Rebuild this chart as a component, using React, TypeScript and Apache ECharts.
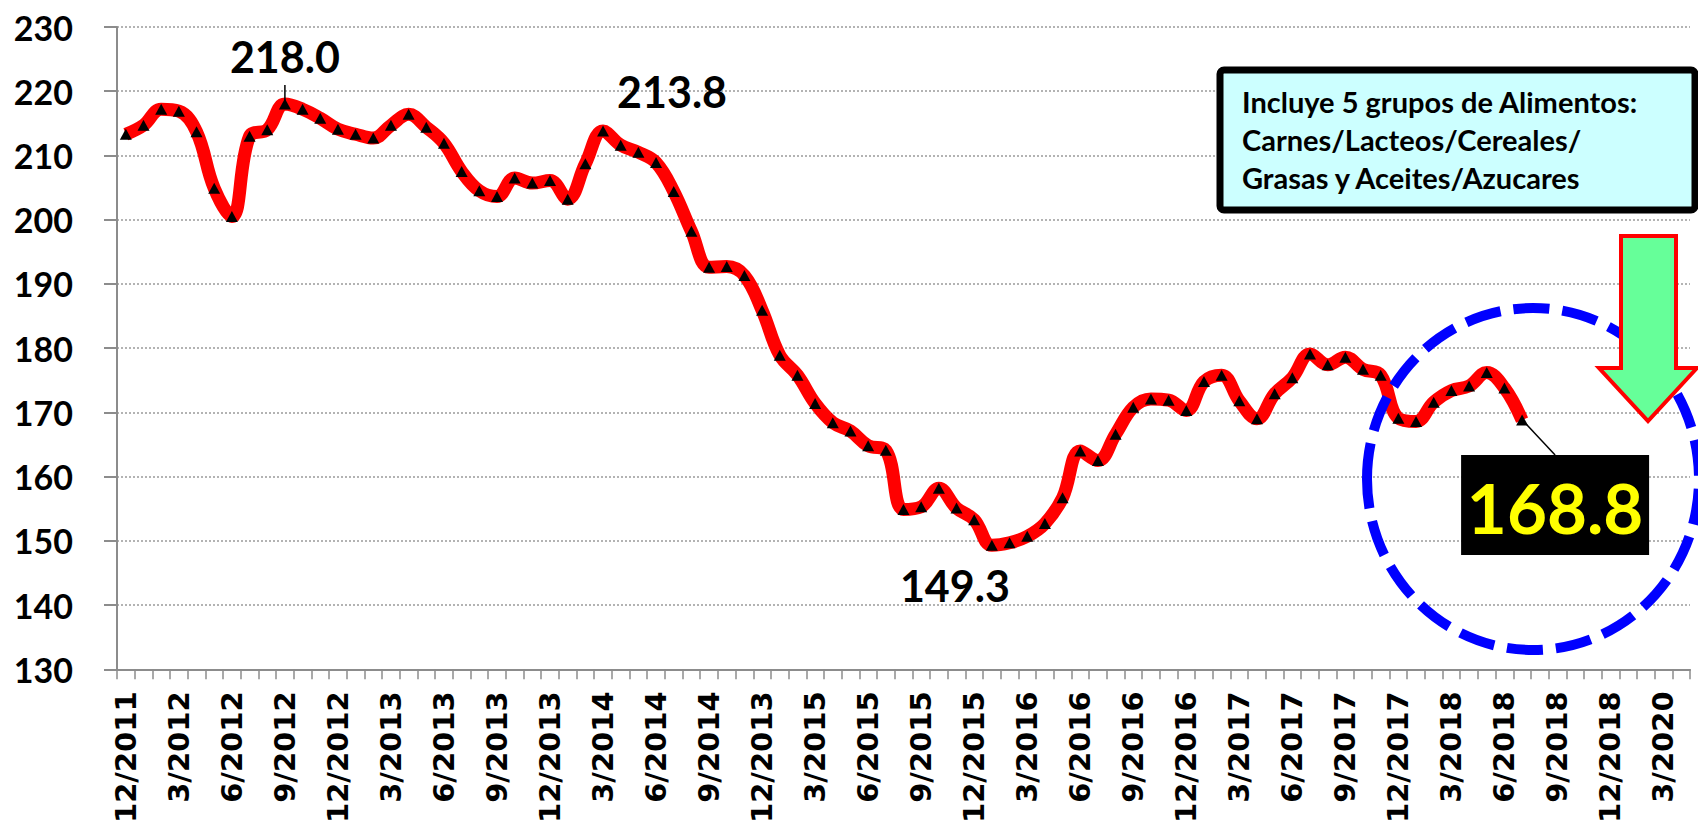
import React, { useEffect, useRef } from "react";
import * as echarts from "echarts";

// Monthly categories: 12/2011 .. 4/2019 (89 months)
const MONTH_COUNT = 89;
const months: string[] = [];
for (let i = 0; i < MONTH_COUNT; i++) {
  const m = ((11 + i) % 12) + 1;
  const y = 2011 + Math.floor((11 + i) / 12);
  months.push(`${m}/${y}`);
}

// Tick labels as printed in the original (every 3rd month)
const tickLabels = [
  "12/2011", "3/2012", "6/2012", "9/2012", "12/2012", "3/2013", "6/2013", "9/2013",
  "12/2013", "3/2014", "6/2014", "9/2014", "12/2013", "3/2015", "6/2015", "9/2015",
  "12/2015", "3/2016", "6/2016", "9/2016", "12/2016", "3/2017", "6/2017", "9/2017",
  "12/2017", "3/2018", "6/2018", "9/2018", "12/2018", "3/2020",
];

// Food price index values, 12/2011 .. 7/2018
const indexValues = [
  213.3, 214.7, 217.2, 216.9, 213.7, 204.9, 200.5, 213.0, 214.0, 218.0,
  217.2, 215.8, 214.1, 213.3, 212.7, 214.7, 216.4, 214.4, 211.9, 207.5,
  204.5, 203.6, 206.5, 205.7, 206.1, 203.2, 208.7, 213.8, 211.6, 210.5,
  208.9, 204.4, 198.2, 192.6, 192.7, 191.3, 185.9, 178.9, 175.8, 171.4,
  168.4, 167.1, 164.8, 164.1, 154.9, 155.3, 158.2, 155.1, 153.3, 149.3,
  149.7, 150.7, 152.7, 156.7, 164.0, 162.5, 166.6, 170.8, 172.1, 171.9,
  170.3, 174.8, 175.8, 171.8, 169.0, 172.9, 175.4, 179.1, 177.4, 178.6,
  176.7, 175.8, 169.1, 168.6, 171.6, 173.4, 174.1, 176.2, 173.8, 168.8,
];

// Annotated points (data indices)
const labelledIndices = [9, 27, 49, 79];

const noteLines = [
  "Incluye 5 grupos de Alimentos:",
  "Carnes/Lacteos/Cereales/",
  "Grasas y Aceites/Azucares",
];

export default function App() {
  const ref = useRef<HTMLDivElement>(null);

  useEffect(() => {
    if (!ref.current) return;
    const chart = echarts.init(ref.current, undefined, { renderer: "svg" });

    chart.setOption({
      animation: false,
      backgroundColor: "#ffffff",
      grid: { left: 117, right: 8, top: 27, bottom: 152 },
      xAxis: {
        type: "category",
        data: months,
        boundaryGap: true,
        axisLine: { show: true, lineStyle: { color: "#8c8c8c", width: 2 } },
        axisTick: { show: true, interval: 0, length: 10, lineStyle: { color: "#8c8c8c", width: 1.5 } },
        axisLabel: {
          interval: 2,
          rotate: 90,
          margin: 22,
          fontFamily: "DejaVu Sans",
          fontWeight: "bold",
          fontSize: 29,
          color: "#000",
          formatter: (_v: string, idx: number) => tickLabels[idx / 3] ?? "",
        },
        splitLine: { show: false },
      },
      yAxis: {
        type: "value",
        min: 130,
        max: 230,
        interval: 10,
        axisLine: { show: true, lineStyle: { color: "#8c8c8c", width: 2 } },
        axisTick: { show: true, length: 13, lineStyle: { color: "#8c8c8c", width: 2 } },
        axisLabel: {
          margin: 44,
          fontFamily: "Lato",
          fontWeight: "bold",
          fontSize: 34,
          color: "#000",
        },
        splitLine: { show: true, lineStyle: { color: "#9a9a9a", width: 1.5, type: [2, 2] } },
      },
      series: [
        {
          type: "line",
          data: indexValues,
          smooth: 0.4,
          symbol: "triangle",
          symbolSize: [12, 11],
          itemStyle: { color: "#000000" },
          lineStyle: { color: "#ff0000", width: 13 },
          z: 3,
        },
      ],
    });

    const pt = (i: number) =>
      chart.convertToPixel({ seriesIndex: 0 }, [i, indexValues[i]]) as number[];

    const [p9, p27, p49, p79] = labelledIndices.map(pt);
    const fmt = (i: number) => indexValues[i].toFixed(1);
    const bigText = (x: number, y: number, text: string) => ({
      type: "text",
      x,
      y,
      z: 20,
      style: {
        text,
        fill: "#000",
        font: "bold 43px Lato",
        align: "center",
        verticalAlign: "middle",
      },
    });

    const boxCx = p79[0] + 33;
    const boxCy = p79[1] + 85;

    chart.setOption({
      graphic: [
        // Blue dashed circle
        {
          type: "ellipse",
          z: 10,
          shape: { cx: 1533, cy: 479, rx: 166, ry: 171 },
          style: { fill: "none", stroke: "#0000ff", lineWidth: 10, lineDash: [36, 13] },
        },
        // Green arrow
        {
          type: "polygon",
          z: 12,
          shape: {
            points: [
              [1621, 236], [1676, 236], [1676, 368], [1697, 368],
              [1648, 421], [1599, 368], [1621, 368],
            ],
          },
          style: { fill: "#66ff99", stroke: "#ff0000", lineWidth: 4 },
        },
        // Note box
        {
          type: "rect",
          z: 12,
          shape: { x: 1220, y: 70, width: 475, height: 140, r: 4 },
          style: { fill: "#ccffff", stroke: "#000", lineWidth: 7 },
        },
        {
          type: "text",
          z: 13,
          x: 1242,
          y: 82,
          style: {
            text: noteLines.join("\n"),
            fill: "#000",
            font: "bold 29px Lato",
            lineHeight: 38,
            align: "left",
            verticalAlign: "top",
          },
        },
        // 218.0
        bigText(p9[0], p9[1] - 48, fmt(9)),
        {
          type: "line",
          z: 20,
          shape: { x1: p9[0], y1: p9[1] - 2, x2: p9[0], y2: p9[1] - 19 },
          style: { stroke: "#000", lineWidth: 1.5 },
        },
        // 213.8
        bigText(p27[0] + 69, p27[1] - 40, fmt(27)),
        // 149.3
        bigText(p49[0] - 37, p49[1] + 40, fmt(49)),
        // 168.8 leader + box
        {
          type: "line",
          z: 20,
          shape: { x1: p79[0] + 4, y1: p79[1] + 4, x2: boxCx, y2: boxCy - 50 },
          style: { stroke: "#000", lineWidth: 1.5 },
        },
        {
          type: "rect",
          z: 21,
          shape: { x: boxCx - 94, y: boxCy - 50, width: 188, height: 100 },
          style: { fill: "#000" },
        },
        {
          type: "text",
          z: 22,
          x: boxCx,
          y: boxCy + 2,
          style: {
            text: fmt(79),
            fill: "#ffff00",
            font: "bold 69px Lato",
            align: "center",
            verticalAlign: "middle",
          },
        },
      ],
    });

    return () => chart.dispose();
  }, []);

  return (
    <div
      ref={ref}
      style={{ position: "absolute", left: 0, top: 0, width: 1698, height: 826, background: "#fff" }}
    />
  );
}
